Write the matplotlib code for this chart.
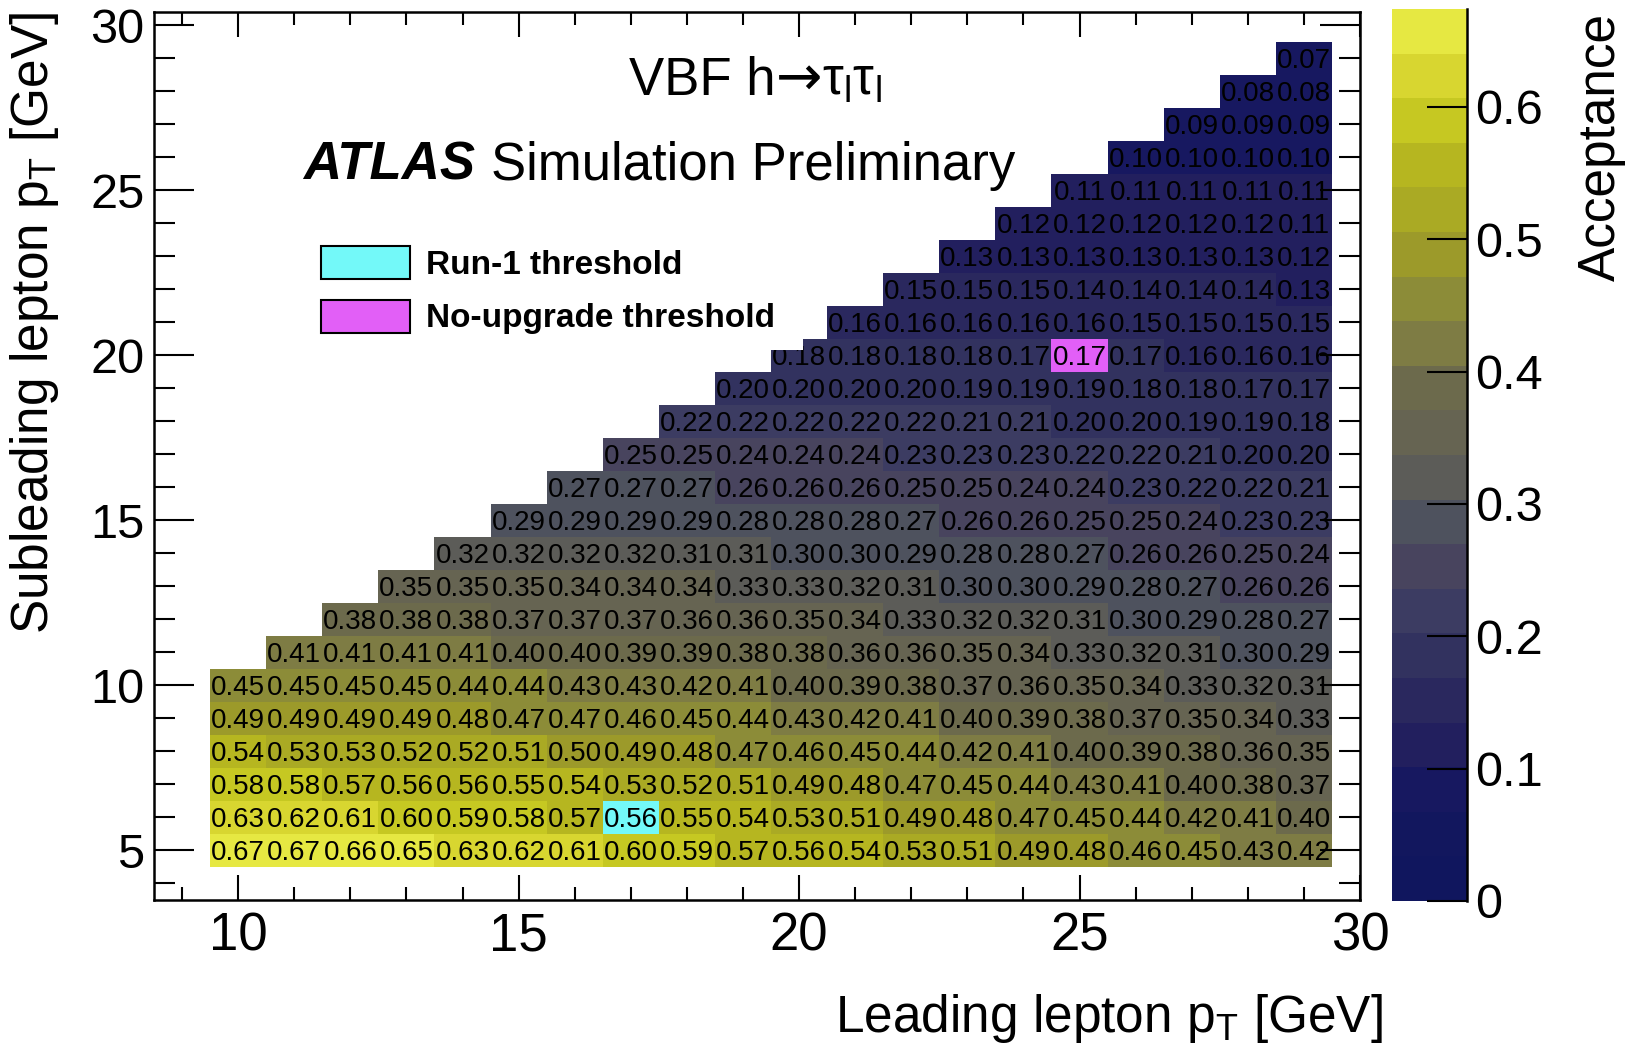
import numpy as np
import matplotlib
matplotlib.use("Agg")
import matplotlib.pyplot as plt
from matplotlib.colors import ListedColormap, BoundaryNorm
from matplotlib.patches import Patch, Rectangle
from matplotlib.ticker import MultipleLocator

plt.rcParams['font.family'] = ['Liberation Sans', 'DejaVu Sans']
plt.rcParams['mathtext.fontset'] = 'custom'
plt.rcParams['mathtext.rm'] = 'Liberation Sans'
plt.rcParams['mathtext.it'] = 'Liberation Sans:italic'
plt.rcParams['mathtext.bf'] = 'Liberation Sans:bold'

# ---------------- data ----------------
lead_pt = [10, 11, 12, 13, 14, 15, 16, 17, 18, 19,
           20, 21, 22, 23, 24, 25, 26, 27, 28, 29]
sublead_pt = [5, 6, 7, 8, 9, 10, 11, 12, 13, 14, 15, 16, 17,
              18, 19, 20, 21, 22, 23, 24, 25, 26, 27, 28, 29]

# each row lists the acceptance for leading pT from max(10, subleading) to 29
row_05 = [0.67, 0.67, 0.66, 0.65, 0.63, 0.62, 0.61, 0.60, 0.59, 0.57, 0.56, 0.54, 0.53, 0.51, 0.49, 0.48, 0.46, 0.45, 0.43, 0.42]
row_06 = [0.63, 0.62, 0.61, 0.60, 0.59, 0.58, 0.57, 0.56, 0.55, 0.54, 0.53, 0.51, 0.49, 0.48, 0.47, 0.45, 0.44, 0.42, 0.41, 0.40]
row_07 = [0.58, 0.58, 0.57, 0.56, 0.56, 0.55, 0.54, 0.53, 0.52, 0.51, 0.49, 0.48, 0.47, 0.45, 0.44, 0.43, 0.41, 0.40, 0.38, 0.37]
row_08 = [0.54, 0.53, 0.53, 0.52, 0.52, 0.51, 0.50, 0.49, 0.48, 0.47, 0.46, 0.45, 0.44, 0.42, 0.41, 0.40, 0.39, 0.38, 0.36, 0.35]
row_09 = [0.49, 0.49, 0.49, 0.49, 0.48, 0.47, 0.47, 0.46, 0.45, 0.44, 0.43, 0.42, 0.41, 0.40, 0.39, 0.38, 0.37, 0.35, 0.34, 0.33]
row_10 = [0.45, 0.45, 0.45, 0.45, 0.44, 0.44, 0.43, 0.43, 0.42, 0.41, 0.40, 0.39, 0.38, 0.37, 0.36, 0.35, 0.34, 0.33, 0.32, 0.31]
row_11 = [0.41, 0.41, 0.41, 0.41, 0.40, 0.40, 0.39, 0.39, 0.38, 0.38, 0.36, 0.36, 0.35, 0.34, 0.33, 0.32, 0.31, 0.30, 0.29]
row_12 = [0.38, 0.38, 0.38, 0.37, 0.37, 0.37, 0.36, 0.36, 0.35, 0.34, 0.33, 0.32, 0.32, 0.31, 0.30, 0.29, 0.28, 0.27]
row_13 = [0.35, 0.35, 0.35, 0.34, 0.34, 0.34, 0.33, 0.33, 0.32, 0.31, 0.30, 0.30, 0.29, 0.28, 0.27, 0.26, 0.26]
row_14 = [0.32, 0.32, 0.32, 0.32, 0.31, 0.31, 0.30, 0.30, 0.29, 0.28, 0.28, 0.27, 0.26, 0.26, 0.25, 0.24]
row_15 = [0.29, 0.29, 0.29, 0.29, 0.28, 0.28, 0.28, 0.27, 0.26, 0.26, 0.25, 0.25, 0.24, 0.23, 0.23]
row_16 = [0.27, 0.27, 0.27, 0.26, 0.26, 0.26, 0.25, 0.25, 0.24, 0.24, 0.23, 0.22, 0.22, 0.21]
row_17 = [0.25, 0.25, 0.24, 0.24, 0.24, 0.23, 0.23, 0.23, 0.22, 0.22, 0.21, 0.20, 0.20]
row_18 = [0.22, 0.22, 0.22, 0.22, 0.22, 0.21, 0.21, 0.20, 0.20, 0.19, 0.19, 0.18]
row_19 = [0.20, 0.20, 0.20, 0.20, 0.19, 0.19, 0.19, 0.18, 0.18, 0.17, 0.17]
row_20 = [0.18, 0.18, 0.18, 0.18, 0.17, 0.17, 0.17, 0.16, 0.16, 0.16]
row_21 = [0.16, 0.16, 0.16, 0.16, 0.16, 0.15, 0.15, 0.15, 0.15]
row_22 = [0.15, 0.15, 0.15, 0.14, 0.14, 0.14, 0.14, 0.13]
row_23 = [0.13, 0.13, 0.13, 0.13, 0.13, 0.13, 0.12]
row_24 = [0.12, 0.12, 0.12, 0.12, 0.12, 0.11]
row_25 = [0.11, 0.11, 0.11, 0.11, 0.11]
row_26 = [0.10, 0.10, 0.10, 0.10]
row_27 = [0.09, 0.09, 0.09]
row_28 = [0.08, 0.08]
row_29 = [0.07]

acceptance_rows = [row_05, row_06, row_07, row_08, row_09, row_10, row_11,
                   row_12, row_13, row_14, row_15, row_16, row_17, row_18,
                   row_19, row_20, row_21, row_22, row_23, row_24, row_25,
                   row_26, row_27, row_28, row_29]

run1_threshold = (17, 6)        # (leading, subleading)
noupgrade_threshold = (25, 20)

cbar_ticks = [0.0, 0.1, 0.2, 0.3, 0.4, 0.5, 0.6]
cbar_ticklabels = ["0", "0.1", "0.2", "0.3", "0.4", "0.5", "0.6"]
z_max = 0.674

# ---------------- style ----------------
palette = ['#10165e', '#12175e', '#171860', '#221f5e', '#2a285e',
           '#32325f', '#3c3c62', '#48445e', '#4e525e', '#5c5c58',
           '#666452', '#6c6a4c', '#7e7c44', '#8c8c38', '#9c9a2a',
           '#aaaa24', '#b6b620', '#c6c822', '#d8d630', '#e6e842']
cyan = '#73f9f9'
magenta = '#e25ff7'

W, H = 1640, 1060
fig = plt.figure(figsize=(W / 100, H / 100), dpi=100)
ax = fig.add_axes([154 / W, 1 - 900 / H, (1360 - 154) / W, 888 / H])
cax = fig.add_axes([1392 / W, 1 - 901 / H, 75 / W, 892 / H])

# ---------------- grid ----------------
Z = np.full((len(sublead_pt), len(lead_pt)), np.nan)
for i, row in enumerate(acceptance_rows):
    Z[i, len(lead_pt) - len(row):] = row
Zm = np.ma.masked_invalid(Z)

x_edges = np.append(np.array(lead_pt) - 0.5, lead_pt[-1] + 0.5)
y_edges = np.append(np.array(sublead_pt) - 0.5, sublead_pt[-1] + 0.5)
levels = np.linspace(0, z_max, len(palette) + 1)
cmap = ListedColormap(palette)
norm = BoundaryNorm(levels, cmap.N)
mesh = ax.pcolormesh(x_edges, y_edges, Zm, cmap=cmap, norm=norm,
                     edgecolors='none', linewidth=0, zorder=1)

for (hx, hy), col in [(run1_threshold, cyan), (noupgrade_threshold, magenta)]:
    ax.add_patch(Rectangle((hx - 0.5, hy - 0.5), 1, 1, facecolor=col,
                           edgecolor='none', zorder=2))

for i, yv in enumerate(sublead_pt):
    for j, xv in enumerate(lead_pt):
        if not np.isnan(Z[i, j]):
            ax.text(xv, yv, f"{Z[i, j]:.2f}", ha='center', va='center_baseline',
                    fontsize=20, color='black', zorder=3)

# white legend box (covers part of the grid like the original)
ax.add_patch(Rectangle((0.13, 0.619), 0.538 - 0.13, 0.75 - 0.619,
                       transform=ax.transAxes, facecolor='white',
                       edgecolor='none', zorder=4))

# ---------------- axes ----------------
ax.set_xlim(8.5, 30)
ax.set_ylim(3.5, 30.4)
ax.xaxis.set_major_locator(MultipleLocator(5))
ax.xaxis.set_minor_locator(MultipleLocator(1))
ax.yaxis.set_major_locator(MultipleLocator(5))
ax.yaxis.set_minor_locator(MultipleLocator(1))
ax.tick_params(axis='both', which='both', direction='in', top=True, right=True,
               width=1.5)
ax.tick_params(axis='x', which='major', length=18, labelsize=38, pad=8)
ax.tick_params(axis='x', which='minor', length=9.5)
ax.tick_params(axis='y', which='major', length=29, labelsize=35, pad=7)
ax.tick_params(axis='y', which='minor', length=15)
for sp in ax.spines.values():
    sp.set_linewidth(1.8)

ax.set_xlabel("Leading lepton p$_\\mathrm{T}$ [GeV]", fontsize=37, loc='right')
ax.xaxis.set_label_coords(1.019, -0.104)
ax.set_ylabel("Subleading lepton p$_\\mathrm{T}$ [GeV]", fontsize=37, loc='top')
ax.yaxis.set_label_coords(-0.077, 1.0)

# ---------------- colorbar ----------------
cb = fig.colorbar(mesh, cax=cax, ticks=cbar_ticks)
cb.set_ticklabels(cbar_ticklabels)
cb.minorticks_off()
cb.outline.set_visible(False)
cax.tick_params(direction='in', length=29, width=1.5, labelsize=35, pad=6,
                right=True, left=False)
cax.plot([1, 1], [0, 1], transform=cax.transAxes, color='black', lw=1.8,
         clip_on=False)
cax.set_ylabel("Acceptance", fontsize=37, loc='top')
cax.yaxis.set_label_coords(2.47, 0.995)

# ---------------- annotations ----------------
renderer = fig.canvas.get_renderer()


def text_chain(x0, y0, pieces):
    """Place text pieces one after another on a common baseline (figure px)."""
    x = x0
    for s, kw in pieces:
        t = fig.text(x / W, 1 - y0 / H, s, ha='left', va='baseline', **kw)
        bb = t.get_window_extent(renderer)
        x = bb.x1 + kw.get('gap', 0) if False else bb.x1
    return x


text_chain(629, 95, [
    ("VBF h", dict(fontsize=38)),
    ("→", dict(fontsize=40, family='DejaVu Sans')),
    ("τ$_\\mathrm{l}$τ$_\\mathrm{l}$", dict(fontsize=38)),
])

atlas = fig.text(303 / W, 1 - 180 / H, "ATLAS", fontsize=38, weight='bold',
                 style='italic', ha='left', va='baseline')
bb = atlas.get_window_extent(renderer)
fig.text((bb.x1 + 16) / W, 1 - 180 / H, "Simulation Preliminary", fontsize=38,
         ha='left', va='baseline')

handles = [Patch(facecolor=cyan, edgecolor='black', linewidth=1.5,
                 label='Run-1 threshold'),
           Patch(facecolor=magenta, edgecolor='black', linewidth=1.5,
                 label='No-upgrade threshold')]
fig.legend(handles=handles, loc='upper left',
           bbox_to_anchor=(321 / W, 1 - 246 / H), frameon=False,
           borderpad=0, borderaxespad=0, handlelength=2.67, handleheight=1.14,
           handletextpad=0.48, labelspacing=0.57,
           prop={'weight': 'bold', 'size': 24})

fig.savefig("out.png", dpi=100)
